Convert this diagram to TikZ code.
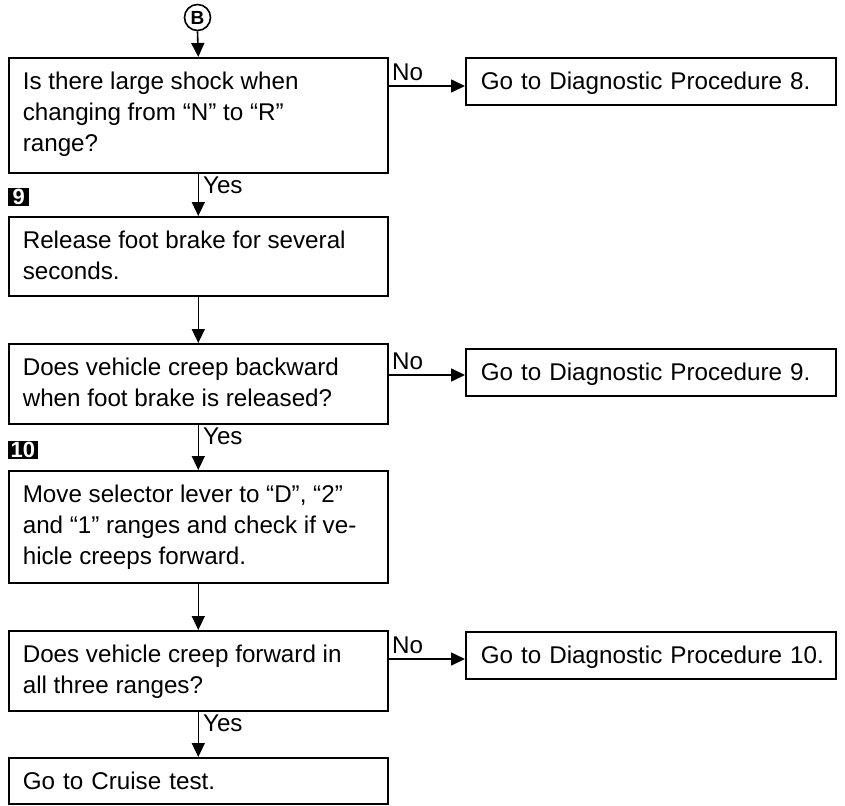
\documentclass[tikz,border=0pt]{standalone}
\usepackage{fontspec}
\setmainfont{Liberation Sans}
\usetikzlibrary{arrows.meta}

% multi-line step text: fixed height, top aligned, first baseline 31.5pt down
\newcommand\steplines[2]{\parbox[c][#1][t]{351pt}{\raggedright\rule{0pt}{31.5pt}#2}}

\tikzset{
  bodyfont/.style={font=\fontsize{24.2pt}{31pt}\selectfont},
  stepbox/.style={draw, line width=1.6pt, anchor=north west, inner xsep=14pt,
    inner ysep=0pt, minimum width=379pt, bodyfont},
  linebox/.style={draw, line width=1.6pt, anchor=north west, inner xsep=14pt,
    inner ysep=0pt, text width=351pt, align=left, text height=17pt,
    text depth=0pt, minimum height=#1, bodyfont},
  gobox/.style={draw, line width=1.6pt, anchor=north west, inner xsep=15pt,
    inner ysep=0pt, text width=340pt, align=left, text height=17pt,
    text depth=0pt, minimum height=47pt, bodyfont},
  flow/.style={line width=1.6pt, -{Triangle[length=14pt,width=13pt]}},
  answer/.style={bodyfont, text height=17pt, text depth=0pt},
  yeslab/.style={answer, anchor=north west, inner xsep=4pt, inner ysep=2.5pt},
  nolab/.style={answer, above, inner xsep=2pt, inner ysep=4.5pt},
  marker/.style={fill=black, text=white, anchor=south west,
    font=\bfseries\fontsize{22pt}{22pt}\selectfont, minimum width=21pt,
    minimum height=18pt, inner xsep=2.5pt, inner ysep=0pt},
  connector/.style={draw, circle, line width=1.6pt, minimum size=26pt,
    inner sep=0pt, font=\bfseries\fontsize{19pt}{19pt}\selectfont}
}

\begin{document}
\begin{tikzpicture}[x=1pt,y=-1pt]
\useasboundingbox (0,0) rectangle (845,805);

% off-page connector
\node[connector] (b) at (197.5,17.5) {B};

% main column of steps
\node[stepbox] (q1) at (8,57)
  {\steplines{115pt}{Is there large shock when\\changing from “N” to “R”\\range?}};
\node[stepbox] (s2) at (8,216)
  {\steplines{79pt}{Release foot brake for several\\seconds.}};
\node[stepbox] (q3) at (8,343)
  {\steplines{80pt}{Does vehicle creep backward\\when foot brake is released?}};
\node[stepbox] (s4) at (8,470)
  {\steplines{112pt}{Move selector lever to “D”, “2”\\and “1” ranges and check if ve-\\hicle creeps forward.}};
\node[stepbox] (q5) at (8,630)
  {\steplines{80pt}{Does vehicle creep forward in\\all three ranges?}};
\node[linebox=46pt] (e6) at (8,757) {Go to Cruise test.};

% step markers
\node[marker, yshift=10pt] (m9) at (s2.north west) {9};
\node[marker, yshift=11pt] (m10) at (s4.north west) {10};

% branch targets
\node[gobox] (a1) at (465,57) {\mbox{Go to Diagnostic Procedure 8.}};
\node[gobox] (a3) at (465,348) {\mbox{Go to Diagnostic Procedure 9.}};
\node[gobox] (a5) at (465,631) {\mbox{Go to Diagnostic Procedure 10.}};

% heights of the "No" branches
\coordinate (n1) at (0,86);
\coordinate (n3) at (0,375);
\coordinate (n5) at (0,659);

% vertical flow
\draw[flow] (b.south) -- (q1.north);
\draw[flow] (q1.south) -- node[yeslab, pos=0] (y1) {Yes} (s2.north);
\draw[flow] (s2.south) -- (q3.north);
\draw[flow] (q3.south) -- node[yeslab, pos=0] (y3) {Yes} (s4.north);
\draw[flow] (s4.south) -- (q5.north);
\draw[flow] (q5.south) -- node[yeslab, pos=0] (y5) {Yes} (e6.north);

% "No" branches
\draw[flow] (q1.east |- n1) -- node[nolab, pos=0.25] (no1) {No} (a1.west |- n1);
\draw[flow] (q3.east |- n3) -- node[nolab, pos=0.25] (no3) {No} (a3.west |- n3);
\draw[flow] (q5.east |- n5) -- node[nolab, pos=0.25] (no5) {No} (a5.west |- n5);
\end{tikzpicture}
\end{document}
